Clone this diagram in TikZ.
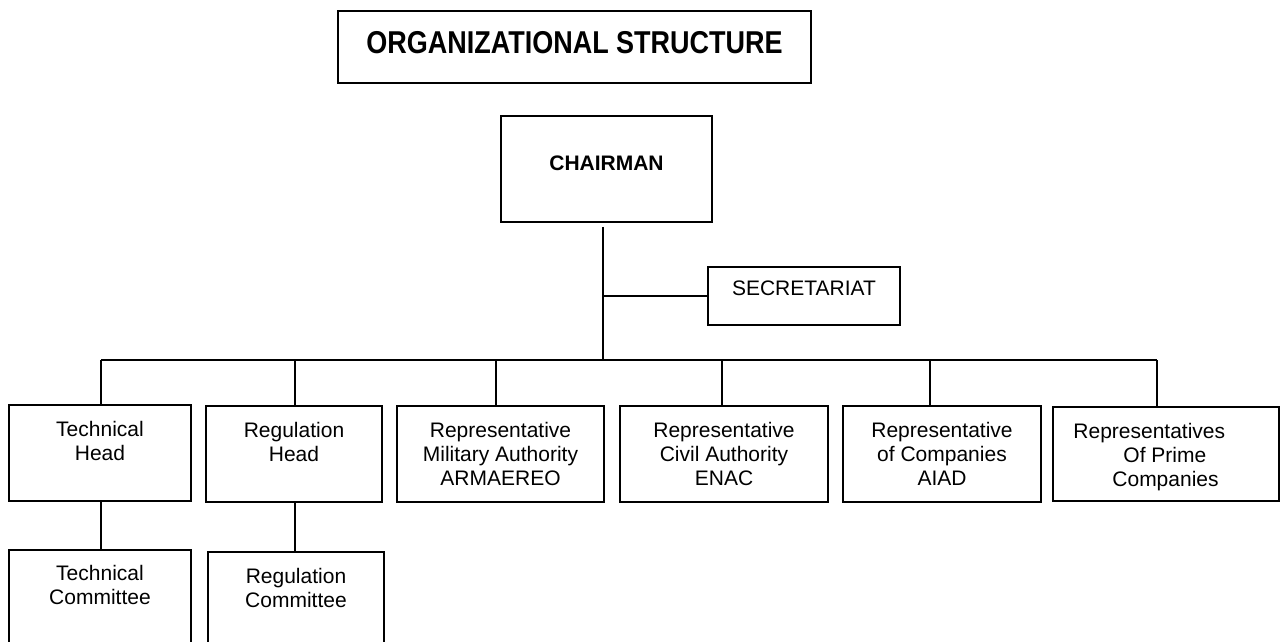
\documentclass[tikz,border=0pt]{standalone}
\usepackage{fontspec}
\setmainfont{Liberation Sans}
\begin{document}
\begin{tikzpicture}[x=1pt,y=-1pt,
  box/.style={draw, line width=1.6pt, inner sep=0pt},
  lbl/.style={font=\fontsize{21}{24}\selectfont, align=center, inner sep=0pt},
  conn/.style={line width=1.6pt},
  thin/.style={line width=1.1pt}]
\useasboundingbox (0,0) rectangle (1284,642);
\clip (0,0) rectangle (1284,642);
% title and chairman
\node[box, minimum width=473pt, minimum height=72pt,
  label={[inner sep=0pt, font=\fontsize{27}{32}\selectfont\bfseries, anchor=base, yshift=-43.3pt]north:\scalebox{1}[1.17]{ORGANIZATIONAL STRUCTURE}}] (title) at (574.5,47) {};
\node[box, minimum width=211pt, minimum height=106pt,
  label={[inner sep=0pt, font=\fontsize{21}{24}\selectfont\bfseries, anchor=base, yshift=-55.5pt]north:CHAIRMAN}] (chair) at (606.5,169) {};
\node[box, minimum width=192pt, minimum height=58pt,
  label={[lbl, anchor=base, yshift=-29.5pt]north:SECRETARIAT}] (sec) at (804,296) {};
% second row
\node[box, minimum width=182pt, minimum height=96pt,
  label={[lbl, anchor=north, yshift=-16.5pt]north:{Technical\\Head}}] (th) at (100,453) {};
\node[box, minimum width=176pt, minimum height=96pt,
  label={[lbl, anchor=north, yshift=-16.5pt]north:{Regulation\\Head}}] (rh) at (294,454) {};
\node[box, minimum width=207pt, minimum height=96pt,
  label={[lbl, anchor=north, yshift=-16.5pt]north:{Representative\\Military Authority\\ARMAEREO}}] (ma) at (500.5,454) {};
\node[box, minimum width=208pt, minimum height=96pt,
  label={[lbl, anchor=north, yshift=-16.5pt]north:{Representative\\Civil Authority\\ENAC}}] (ca) at (724,454) {};
\node[box, minimum width=198pt, minimum height=96pt,
  label={[lbl, anchor=north, yshift=-16.5pt]north:{Representative\\of Companies\\AIAD}}] (co) at (942,454) {};
\node[box, minimum width=226pt, minimum height=94pt,
  label={[lbl, align=left, anchor=north west, xshift=21pt, yshift=-16.5pt]north west:{Representatives\\\hspace*{50pt}Of Prime\\\hspace*{39pt}Companies}}] (pr) at (1166,454) {};
% third row
\node[box, minimum width=182pt, minimum height=150pt,
  label={[lbl, anchor=north, yshift=-15.5pt]north:{Technical\\Committee}}] (tc) at (100,625) {};
\node[box, minimum width=176pt, minimum height=148pt,
  label={[lbl, anchor=north, yshift=-16.5pt]north:{Regulation\\Committee}}] (rc) at (296,626) {};
% bus coordinates
\coordinate (hub) at (603,360);
\coordinate (b1) at (101,360);
\coordinate (b2) at (295,360);
\coordinate (b3) at (496,360);
\coordinate (b4) at (722,360);
\coordinate (b5) at (930,360);
\coordinate (b6) at (1157,360);
% connectors
\draw[conn] ([yshift=-4pt]chair.south -| hub) -- (hub);
\draw[thin] (hub |- sec.west) -- (sec.west);
\draw[conn] (b1) -- (b6);
\draw[conn] (b1) -- (b1 |- th.north);
\draw[conn] (b2) -- (b2 |- rh.north);
\draw[conn] (b3) -- (b3 |- ma.north);
\draw[conn] (b4) -- (b4 |- ca.north);
\draw[conn] (b5) -- (b5 |- co.north);
\draw[conn] (b6) -- (b6 |- pr.north);
\draw[conn] (b1 |- th.south) -- (b1 |- tc.north);
\draw[conn] (b2 |- rh.south) -- (b2 |- rc.north);
\end{tikzpicture}
\end{document}
